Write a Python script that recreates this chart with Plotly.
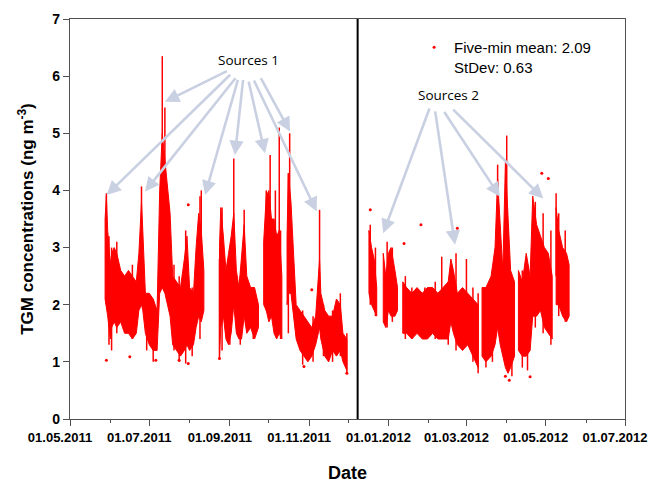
import plotly.graph_objects as go

# ---------------- data ----------------
# core band of the five-minute TGM record: block id, date, low, high (ng m-3)
core_block = [
    1,1,1,1,1,1,1,1,1,1,1,1,1,1,1,1,1,1,1,1,1,1,1,1,1,1,1,1,1,1,1,1,1,1,1,
    2,2,2,2,2,2,2,2,2,2,2,2,2,2,2,
    3,3,3,3,3,3,3,3,
    4,4,4,4,4,4,4,4,4,4,4,4,4,4,4,4,4,4,4,
    5,5,5,5,
    6,6,6,6,6,6,
    7,7,7,7,7,7,7,7,7,7,7,7,7,7,7,7,7,
    8,8,8,8,8,8,8,8,8,8,8,
    9,9,9,9,9,9,9,9,9,9,
    10,10,10,10,10,
]
core_dates = [
    "2011-05-28","2011-05-29","2011-05-30","2011-06-01","2011-06-02","2011-06-04","2011-06-06",
    "2011-06-09","2011-06-12","2011-06-15","2011-06-18","2011-06-21","2011-06-23","2011-06-25",
    "2011-06-26","2011-06-28","2011-07-01","2011-07-04","2011-07-07","2011-07-09","2011-07-11",
    "2011-07-13","2011-07-15","2011-07-17","2011-07-19","2011-07-22","2011-07-25","2011-07-28",
    "2011-07-30","2011-08-01","2011-08-04","2011-08-06","2011-08-08","2011-08-10","2011-08-12",
    "2011-08-24","2011-08-25","2011-08-27","2011-08-29","2011-08-31","2011-09-02","2011-09-04",
    "2011-09-06","2011-09-08","2011-09-10","2011-09-12","2011-09-14","2011-09-17","2011-09-20",
    "2011-09-23",
    "2011-09-27","2011-09-29","2011-10-01","2011-10-03","2011-10-05","2011-10-07","2011-10-09",
    "2011-10-11",
    "2011-10-15","2011-10-16","2011-10-18","2011-10-20","2011-10-22","2011-10-25","2011-10-28",
    "2011-10-31","2011-11-03","2011-11-06","2011-11-09","2011-11-10","2011-11-13","2011-11-16",
    "2011-11-19","2011-11-22","2011-11-25","2011-11-27","2011-11-30",
    "2011-12-17","2011-12-19","2011-12-21","2011-12-23",
    "2011-12-28","2011-12-30","2012-01-01","2012-01-03","2012-01-06","2012-01-08",
    "2012-01-12","2012-01-15","2012-01-19","2012-01-23","2012-01-27","2012-01-31","2012-02-04",
    "2012-02-08","2012-02-12","2012-02-16","2012-02-18","2012-02-20","2012-02-23","2012-02-27",
    "2012-03-02","2012-03-06","2012-03-10",
    "2012-03-13","2012-03-16","2012-03-20","2012-03-23","2012-03-25","2012-03-27","2012-03-29",
    "2012-03-31","2012-04-02","2012-04-04","2012-04-07",
    "2012-04-10","2012-04-13","2012-04-16","2012-04-19","2012-04-21","2012-04-24","2012-04-27",
    "2012-04-30","2012-05-03","2012-05-06",
    "2012-05-09","2012-05-11","2012-05-14","2012-05-17","2012-05-19",
]
core_low = [
    2.1,2.0,1.8,1.4,1.6,1.7,1.6,1.7,1.5,1.5,1.4,1.5,1.9,2.0,1.9,1.5,1.3,1.2,1.2,2.2,2.3,
    2.2,2.0,1.8,1.3,1.2,1.1,1.2,1.3,1.2,1.3,1.6,1.8,1.7,1.9,
    1.1,1.6,1.8,1.4,1.3,1.5,2.0,1.5,1.4,1.4,1.8,1.5,1.6,1.4,1.6,
    2.0,1.9,1.7,1.8,1.5,1.4,1.5,1.4,
    2.0,2.2,2.2,1.8,1.4,1.2,1.1,1.0,1.1,1.3,1.6,1.4,1.1,1.0,1.2,1.1,1.2,1.0,0.85,
    2.2,2.0,1.9,1.8,
    1.7,1.6,1.9,1.8,1.8,1.9,
    1.5,1.5,1.4,1.5,1.4,1.4,1.5,1.4,1.4,1.4,1.7,1.5,1.3,1.2,1.3,1.1,0.9,
    1.1,1.0,1.1,1.3,1.6,1.3,1.1,0.9,0.8,0.9,1.1,
    1.2,1.1,1.1,1.2,1.8,1.8,1.9,1.6,1.5,1.4,
    2.0,2.0,1.8,1.7,1.8,
]
core_high = [
    3.5,3.9,3.3,2.7,2.9,3.0,2.9,2.6,2.5,2.6,2.5,2.4,2.9,3.8,3.3,2.2,2.2,2.1,1.9,4.0,5.0,
    4.5,4.0,3.6,2.5,2.4,2.3,2.8,3.2,2.3,2.2,3.0,3.6,3.3,2.6,
    3.0,3.7,3.2,2.6,2.9,3.2,3.6,2.6,2.3,2.8,3.4,2.5,2.3,2.3,2.0,
    3.1,3.9,4.0,3.5,3.5,3.2,3.3,2.5,
    3.2,4.3,3.8,2.9,2.0,1.9,1.8,1.7,1.6,1.8,2.8,2.2,1.9,1.8,1.8,2.1,2.0,1.5,1.4,
    3.3,3.0,2.8,2.3,
    2.9,2.5,2.9,3.0,2.6,2.3,
    2.4,2.3,2.2,2.3,2.2,2.3,2.3,2.2,2.3,2.4,2.8,2.6,2.2,2.3,2.2,2.1,2.0,
    2.3,2.3,2.5,3.0,4.2,3.3,2.6,4.5,3.4,2.6,2.4,
    2.6,2.4,2.9,2.5,3.9,3.4,3.2,3.0,2.9,2.5,
    3.7,3.3,3.0,2.9,2.7,
]

# short-lived peaks and single-day strokes: date, low, high
spike_dates = [
    "2011-05-29","2011-05-31","2011-06-02","2011-06-06","2011-06-18","2011-06-25","2011-06-29",
    "2011-07-04","2011-07-11","2011-07-13","2011-07-20","2011-07-24","2011-07-29","2011-08-03",
    "2011-08-09","2011-08-10","2011-08-24","2011-08-26","2011-09-01","2011-09-04","2011-09-09",
    "2011-09-12","2011-09-19","2011-09-29","2011-10-02","2011-10-06","2011-10-09","2011-10-10",
    "2011-10-16","2011-10-17","2011-10-27","2011-11-04","2011-11-09","2011-11-12","2011-11-19",
    "2011-11-25","2011-11-30",
    "2011-12-18","2011-12-22","2011-12-31","2012-01-04","2012-01-14","2012-01-19","2012-01-29",
    "2012-02-06","2012-02-11","2012-02-16","2012-02-22","2012-03-01","2012-03-06","2012-03-10",
    "2012-03-16","2012-03-21","2012-03-25","2012-04-01","2012-04-05","2012-04-13","2012-04-17",
    "2012-04-23","2012-04-29","2012-05-05","2012-05-09","2012-05-11","2012-05-16",
]
spike_low = [
    2.0,1.3,1.2,1.5,1.4,2.5,1.2,1.0,4.0,3.5,1.2,1.0,0.97,1.1,1.4,2.5,1.06,1.2,1.3,2.0,1.3,
    2.5,1.4,1.9,2.5,1.5,2.5,1.4,1.5,2.5,0.95,1.0,2.0,1.1,1.0,1.1,0.8,
    2.0,1.8,1.6,1.7,1.4,1.4,1.4,1.4,1.4,1.3,1.2,1.3,1.0,0.8,0.9,1.0,2.0,1.0,0.75,0.9,0.85,
    1.6,1.5,1.3,2.5,1.8,1.7,
]
spike_high = [
    3.95,3.2,3.0,3.1,2.7,4.07,2.2,2.1,6.35,5.45,2.7,2.5,3.3,2.3,3.9,4.0,2.8,3.7,3.0,4.56,2.5,
    3.66,2.3,4.0,4.62,4.0,5.1,3.3,4.3,5.0,1.9,1.8,3.66,2.0,1.9,2.2,1.5,
    3.4,3.0,3.1,3.0,2.5,2.3,2.3,2.4,2.84,2.4,2.9,2.8,2.3,2.2,2.3,2.6,4.45,4.96,2.4,2.6,2.7,
    3.8,3.6,3.3,3.95,3.6,3.3,
]

# isolated readings
out_dates = ["2011-05-29","2011-06-16","2011-07-06","2011-07-24","2011-07-31","2011-07-31",
             "2011-08-24","2011-10-28","2011-11-03","2011-11-30","2011-12-18","2012-01-13",
             "2012-01-26","2012-02-23","2012-03-31","2012-04-03","2012-04-19","2012-04-28",
             "2012-05-03"]
out_vals = [1.03,1.09,1.03,1.03,0.97,3.75,1.06,0.92,2.26,0.8,3.66,3.07,3.4,3.34,0.75,0.68,
            0.74,4.3,4.21]

series_name = "Five-min mean: 2.09"
stdev_text = "StDev: 0.63"
divider_date = "2011-12-08 07:00"

# annotation arrows (tail -> tip) for the two source groups
src1_label = ("Sources 1", "2011-09-15 10:00", 6.28)
src1_tail_x = ["2011-08-30 19:00","2011-09-02 10:00","2011-09-06 05:00","2011-09-07 12:00",
               "2011-09-11 07:00","2011-09-15 05:00","2011-09-19 00:00","2011-09-24 05:00"]
src1_tail_y = [6.10,6.05,5.99,5.96,5.96,5.93,5.95,5.99]
src1_tip_x = ["2011-07-13 02:00","2011-05-29 05:00","2011-06-27 17:00","2011-08-12 22:00",
              "2011-09-04 22:00","2011-09-28 00:00","2011-11-06 19:00","2011-10-17 07:00"]
src1_tip_y = [5.55,3.92,3.98,3.92,4.62,4.65,3.63,5.03]

src2_label = ("Sources 2", "2012-02-16 00:00", 5.67)
src2_tail_x = ["2012-02-02 00:00","2012-02-05 19:00","2012-02-12 05:00","2012-02-18 17:00"]
src2_tail_y = [5.46,5.41,5.40,5.44]
src2_tip_x = ["2011-12-28 00:00","2012-02-21 05:00","2012-03-26 19:00","2012-04-29 02:00"]
src2_tip_y = [3.25,3.05,3.89,3.86]

# ---------------- build figure ----------------
RED = "#ff0000"
ARROW = "#c9d0e2"
AXIS = "#505050"
FONT = "Liberation Sans, Arial, sans-serif"

# polygons of the core band, one per continuous block
poly_x, poly_y = [], []
blocks = []
for b in core_block:
    if b not in blocks:
        blocks.append(b)
for b in blocks:
    idx = [i for i, v in enumerate(core_block) if v == b]
    xs = [core_dates[i] for i in idx]
    hi = [core_high[i] for i in idx]
    lo = [core_low[i] for i in idx]
    poly_x += xs + xs[::-1] + [xs[0], None]
    poly_y += hi + lo[::-1] + [hi[0], None]

spk_x, spk_y = [], []
for d, lo, hi in zip(spike_dates, spike_low, spike_high):
    spk_x += [d, d, None]
    spk_y += [lo, hi, None]

fig = go.Figure()
fig.add_trace(go.Scatter(x=poly_x, y=poly_y, mode="lines", fill="toself",
                         fillcolor=RED, line=dict(color=RED, width=1.0),
                         showlegend=False, hoverinfo="skip"))
fig.add_trace(go.Scatter(x=spk_x, y=spk_y, mode="lines",
                         line=dict(color=RED, width=1.5),
                         showlegend=False, hoverinfo="skip"))
fig.add_trace(go.Scatter(x=out_dates, y=out_vals, mode="markers",
                         marker=dict(color=RED, size=3),
                         name=series_name + "<br>" + stdev_text))

fig.add_shape(type="line", xref="x", yref="y", x0=divider_date, x1=divider_date,
              y0=0, y1=7, line=dict(color="black", width=2))

annos = []
for label, tails_x, tails_y, tips_x, tips_y in [
        (src1_label, src1_tail_x, src1_tail_y, src1_tip_x, src1_tip_y),
        (src2_label, src2_tail_x, src2_tail_y, src2_tip_x, src2_tip_y)]:
    for tx, ty, px, py in zip(tails_x, tails_y, tips_x, tips_y):
        annos.append(dict(x=px, y=py, ax=tx, ay=ty, xref="x", yref="y",
                          axref="x", ayref="y", text="", showarrow=True,
                          arrowhead=2, arrowsize=1.1, arrowwidth=2.6,
                          arrowcolor=ARROW, standoff=0, startstandoff=0))
    annos.append(dict(x=label[1], y=label[2], xref="x", yref="y", text=label[0],
                      showarrow=False, font=dict(family="Open Sans", size=13.5, color="black")))

fig.update_layout(
    width=650, height=483,
    margin=dict(l=70, r=25, t=19, b=64, autoexpand=False),
    paper_bgcolor="white", plot_bgcolor="white",
    font=dict(family=FONT, color="black"),
    annotations=annos,
    showlegend=True,
    legend=dict(x=0.62, y=0.97, xanchor="left", yanchor="top",
                bgcolor="rgba(0,0,0,0)", font=dict(family=FONT, size=15),
                valign="top", itemwidth=30),
    xaxis=dict(type="date", range=["2011-05-01", "2012-07-01"],
               tick0="2011-05-01", dtick="M2", tickformat="%d.%m.%Y",
               ticks="outside", ticklen=6, tickcolor=AXIS, tickwidth=1,
               minor=dict(dtick="M1", ticks="outside", ticklen=3, tickcolor=AXIS),
               showline=True, linecolor=AXIS, linewidth=1.3, mirror=True,
               showgrid=False, zeroline=False, ticklabelshift=-10,
               ticklabeloverflow="allow", automargin=False,
               tickfont=dict(family=FONT, size=13, weight="bold"),
               title=dict(text="Date", font=dict(family=FONT, size=18, weight="bold"),
                          standoff=22)),
    yaxis=dict(range=[0, 7], dtick=1, ticks="outside", ticklen=6, tickcolor=AXIS,
               showline=True, linecolor=AXIS, linewidth=1.3, mirror=True,
               showgrid=False, zeroline=False, automargin=False,
               tickfont=dict(family=FONT, size=14, weight="bold"),
               title=dict(text="TGM concentrations (ng m<sup>-3</sup>)",
                          font=dict(family=FONT, size=17, weight="bold"), standoff=14)),
)

fig.write_html("out.html")
